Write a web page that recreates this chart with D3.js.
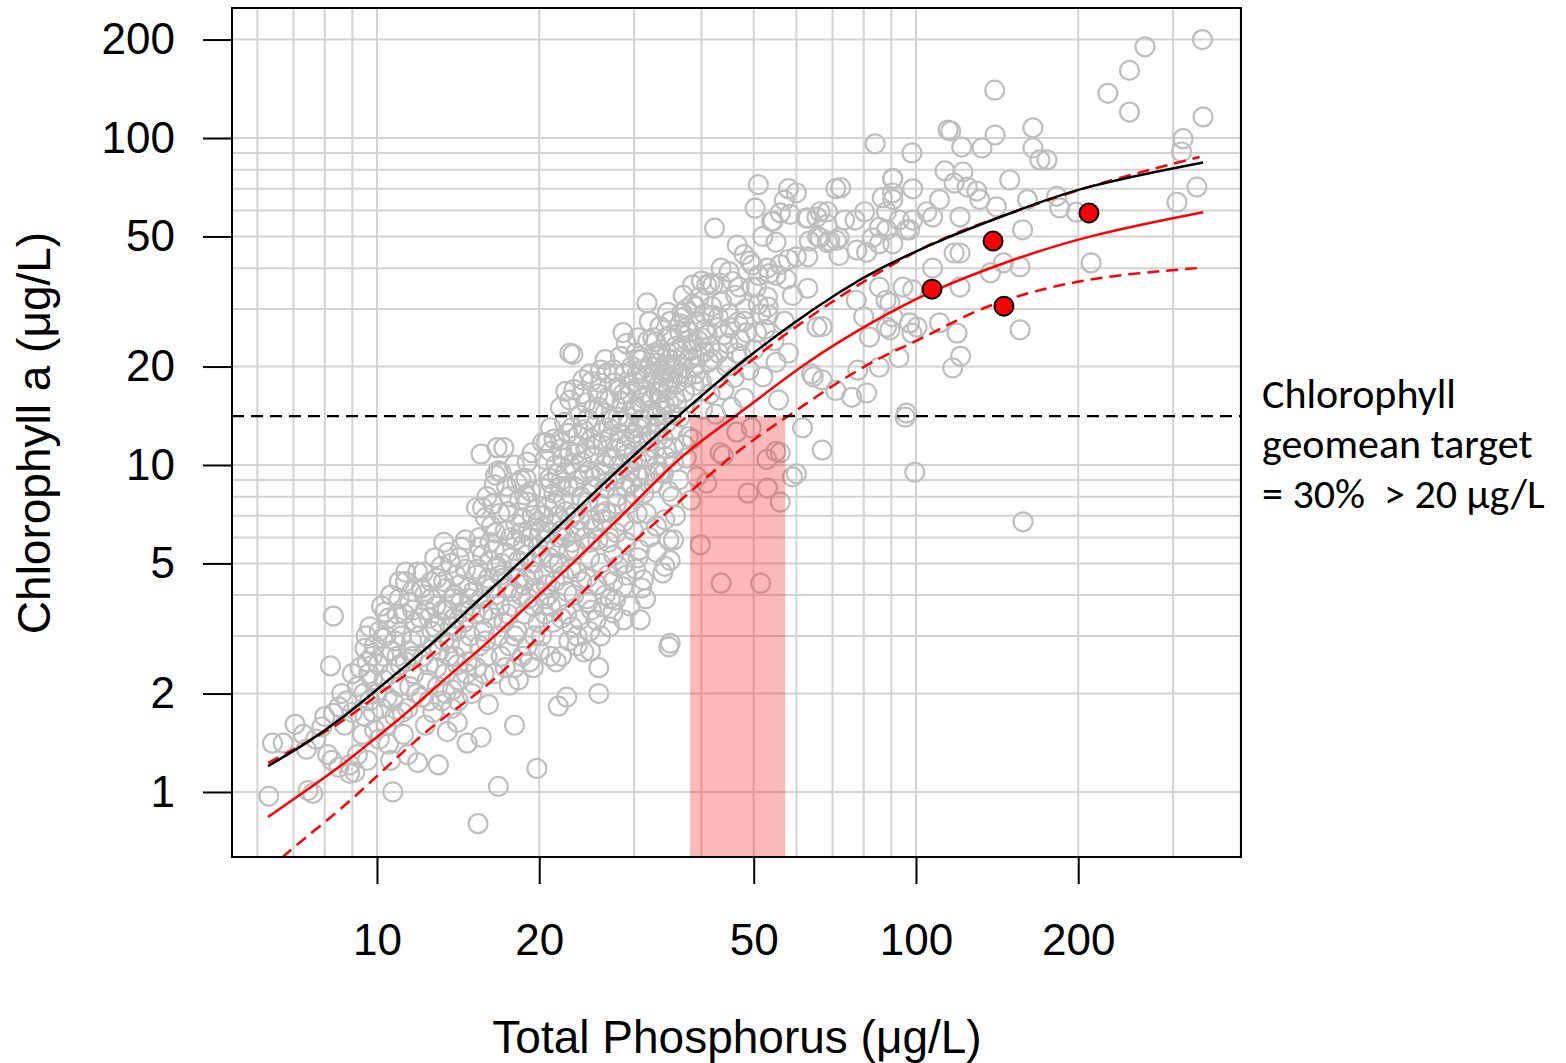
<!DOCTYPE html>
<html><head><meta charset="utf-8">
<script src="https://cdn.jsdelivr.net/npm/d3@7"></script>
<style>body{margin:0;background:#fff} svg{display:block}</style>
</head><body>
<svg id="chart" width="1566" height="1063"></svg>
<script>
// ---------- data ----------
const xTicks = [10, 20, 50, 100, 200];
const yTicks = [1, 2, 5, 10, 20, 50, 100, 200];
const xGrid = [6, 7, 8, 9, 10, 20, 30, 40, 50, 60, 70, 80, 90, 100, 200, 300, 400];
const yGrid = [1, 2, 3, 4, 5, 6, 7, 8, 9, 10, 20, 30, 40, 50, 60, 70, 80, 90, 100, 200];
const xDomain = [5.383, 400.9];
const yDomain = [0.6326, 249.8];

// lakes: [total phosphorus, chlorophyll a]
const lakePoints = [
 [6.3,0.97],[6.4,1.41],[6.7,1.41],[7.05,1.61],[7.45,1.01],[7.6,0.99],[7.9,1.58],[8.3,1.74],[8.5,1.82],[8.9,1.14],
 [8.5,1.19],[9.6,1.25],[8.3,3.45],[8.2,2.43],[7.3,1.5],[7.7,1.45],[8.0,1.7],[8.7,1.6],[8.8,1.9],[9.0,1.75],
 [8.6,2.0],[9.2,2.1],[8.1,1.3],[7.4,1.35],[8.25,1.25],[8.9,1.21],[9.1,1.15],
 [9.2,1.3],[9.4,1.5],[9.5,1.7],[9.7,1.9],[9.8,2.2],[9.6,2.5],[9.9,2.8],[10.1,3.1],[10.3,2.6],[10.0,2.0],
 [10.2,1.8],[10.4,1.6],[10.5,1.4],[10.6,2.3],[10.8,2.9],[10.9,3.5],[10.7,1.9],[11.0,2.1],[10.1,1.45],[9.7,3.2],
 [10.5,3.4],[10.9,2.6],[10.3,2.2],[9.9,1.55],[10.6,1.25],[10.8,1.7],[9.3,2.4],[9.5,2.75],[9.0,2.3],[10.2,3.7],
 [10.7,1.0],[10.6,4.0],[11.0,4.4],[10.4,3.0],[9.8,2.6],
 [11.2,1.5],[11.4,1.8],[11.5,2.1],[11.3,2.5],[11.6,2.9],[11.8,3.3],[11.5,3.8],[11.3,4.4],[11.9,4.7],[12.1,4.2],
 [12.3,3.6],[12.0,3.0],[12.2,2.6],[12.4,2.2],[12.5,1.9],[12.3,1.6],[11.9,1.23],[12.7,2.8],[12.8,3.2],[12.6,3.9],
 [12.9,4.5],[13.0,1.21],[12.7,1.75],[12.9,2.4],[11.7,2.3],[11.1,3.0],[11.0,3.9],[11.6,4.1],[12.1,1.95],[12.5,3.4],
 [11.4,1.3],[12.8,5.2],[11.3,4.7],[12.2,4.7],[11.66,2.6],
 [13.2,1.9],[13.5,1.53],[14.1,1.63],[13.8,2.05],[13.4,2.3],[13.6,2.6],[13.3,2.9],[13.7,3.2],[13.5,3.6],[13.9,4.0],
 [13.3,4.4],[13.3,5.8],[14.6,5.9],[14.2,5.2],[14.0,4.6],[14.3,3.8],[14.5,3.3],[14.4,2.8],[14.7,2.5],[14.2,2.2],
 [14.7,1.41],[15.0,2.0],[14.9,3.0],[14.8,4.2],[14.6,4.8],[13.9,3.4],[13.1,3.3],[14.1,2.45],[13.7,5.0],[14.9,3.6],
 [15.1,2.15],[15.6,1.47],[15.4,0.8],[16.1,1.85],[15.3,2.4],[15.5,2.8],[15.8,3.1],[15.2,3.5],[15.6,3.9],[15.9,4.3],
 [15.4,4.8],[15.7,5.3],[16.2,5.8],[15.3,7.4],[15.7,7.4],[15.6,10.8],[16.7,11.3],[16.8,9.6],[16.5,8.7],[16.3,6.5],
 [16.0,2.6],[16.4,3.4],[16.6,4.0],[16.9,4.6],[16.2,5.1],[16.8,3.0],[16.5,2.3],[16.8,1.04],[15.9,6.9],[16.6,6.2],
 [16.9,7.1],[15.5,6.0],[16.1,4.5],
 [17.2,11.3],[18.5,9.0],[17.4,8.6],[18.2,8.8],[18.9,9.1],[19.4,10.9],[17.3,2.4],[17.6,2.8],[17.2,3.3],[17.8,3.7],
 [17.5,4.2],[17.9,4.8],[17.3,5.4],[17.7,6.0],[18.1,6.6],[17.5,7.2],[18.4,7.8],[18.0,1.6],[18.3,2.2],[18.6,2.6],
 [18.2,3.1],[18.8,3.5],[18.5,4.0],[18.9,4.5],[18.3,5.1],[18.7,5.7],[19.1,6.3],[19.4,7.0],[19.0,7.7],[19.3,8.3],
 [19.6,3.0],[19.2,2.5],[19.7,4.2],[19.5,5.0],[19.9,5.6],[19.8,1.18],[19.9,6.7],[17.0,5.0],[18.6,6.9],[19.5,3.7],
 [17.6,2.12],[18.0,2.4],
 [20.3,11.7],[21.9,11.9],[20.6,11.7],[21.9,15.0],[22.8,15.8],[22.8,22.0],[20.2,3.0],[20.5,3.5],[20.8,4.0],[20.4,4.6],
 [20.9,5.2],[20.6,5.9],[21.1,6.6],[20.7,7.4],[21.3,8.2],[20.9,9.1],[21.5,10.0],[21.2,3.3],[21.6,3.8],[21.4,4.4],
 [21.8,5.0],[21.5,5.6],[22.0,6.3],[21.7,7.0],[22.2,7.8],[21.9,8.6],[22.4,9.5],[22.1,10.5],[22.6,12.5],[22.3,13.5],
 [22.7,2.9],[22.5,4.1],[22.9,4.8],[22.7,5.5],[22.4,6.0],[22.9,6.9],[21.7,1.83],[22.5,1.95],[22.8,11.0],[20.3,8.5],
 [21.0,2.6],[20.1,6.3],[21.0,13.0],
 [24.8,19.0],[26.7,19.1],[24.1,18.2],[23.8,3.36],[24.2,2.68],[25.8,2.4],[25.8,2.0],[24.9,2.7],[23.2,4.0],[23.5,4.7],
 [23.4,5.5],[23.7,6.3],[23.3,7.1],[23.9,8.0],[23.6,9.0],[24.0,10.2],[23.5,11.5],[24.2,12.8],[23.8,14.2],[24.4,15.5],
 [24.6,3.8],[24.5,4.5],[24.8,5.2],[24.3,6.0],[24.9,6.8],[24.6,7.7],[25.1,8.6],[24.8,9.6],[25.3,10.7],[25.0,12.0],
 [25.5,13.3],[25.2,14.8],[25.7,16.5],[25.5,3.35],[25.6,4.3],[26.0,5.0],[25.7,5.9],[26.2,6.8],[25.9,7.6],[26.5,8.5],
 [26.1,9.5],[26.7,10.6],[26.3,11.8],[26.9,13.0],[26.5,14.4],[26.8,4.6],[26.3,3.68],[26.9,5.8],[26.6,7.2],[23.1,21.8],
 [27.1,3.9],[27.4,4.4],[27.7,3.86],[28.7,3.36],[30.8,3.36],[27.4,3.53],[28.6,4.24],[31.0,4.2],[27.5,5.3],[27.8,6.2],
 [27.3,7.1],[27.9,8.0],[27.6,9.0],[28.1,10.0],[27.8,11.2],[28.3,12.5],[28.0,14.0],[28.5,15.5],[28.2,17.0],[28.6,25.4],
 [28.8,5.0],[29.0,5.8],[28.7,6.7],[29.2,7.6],[28.9,8.6],[29.4,9.6],[29.1,10.8],[29.6,12.0],[29.3,13.4],[29.8,14.8],
 [29.5,16.5],[30.0,18.0],[29.7,20.0],[30.2,22.0],[29.9,6.3],[30.4,7.1],[30.1,8.1],[30.6,9.2],[30.3,10.4],[30.8,11.6],
 [30.5,13.0],[30.9,15.5],[30.6,17.2],[30.9,19.5],[30.2,4.8],[30.7,5.5],
 [31.7,31.3],[32.5,24.5],[34.6,24.7],[34.6,29.3],[31.2,4.45],[33.9,4.67],[35.0,5.1],[35.5,5.9],[34.2,6.8],[33.0,6.5],
 [31.6,7.1],[34.8,2.78],[35.0,2.85],[34.2,4.9],[34.8,5.9],[31.3,8.2],[31.8,9.3],[31.5,10.5],[32.0,11.8],[31.7,13.2],
 [32.2,14.7],[31.9,16.3],[32.4,18.0],[32.1,20.0],[32.7,22.0],[32.6,8.8],[33.1,10.0],[32.8,11.2],[33.3,12.6],[33.0,14.1],
 [33.5,15.8],[33.2,17.5],[33.7,19.5],[33.4,21.5],[34.0,9.4],[34.3,10.6],[34.0,12.0],[34.5,13.5],[34.2,15.2],[34.7,17.0],
 [34.4,19.0],[34.9,21.0],[35.3,8.0],[35.5,11.3],[35.2,14.3],[35.7,16.2],[35.4,18.5],[35.8,23.0],[33.5,26.5],[32.0,27.5],
 [27.5,19.5],[28.3,21.5],[29.0,23.5],[30.5,24.5],[31.0,21.0],[32.9,23.8],[33.8,18.8],[35.0,20.2],[36.2,22.5],[37.6,24.0],
 [36.0,17.8],[38.8,20.0],[26.0,17.8],[27.0,15.8],[26.5,21.0],
 [33.5,9.5],[35.5,10.2],[37.2,11.5],[38.5,12.0],[36.3,9.0],[34.8,8.3],[32.0,6.0],[30.5,5.2],[29.0,4.6],[33.0,5.4],
 [31.5,3.9],[29.5,3.7],[35.8,7.0],[27.0,6.0],[28.0,4.9],
 [23.5,3.0],[24.8,3.1],[26.0,3.0],[22.0,3.4],[21.0,3.7],[18.0,3.0],[19.0,2.8],[20.0,2.7],[22.0,2.6],[23.0,3.2],
 [25.0,3.6],[27.0,3.2],[19.5,2.4],[21.5,2.5],[23.5,2.8],[20.5,3.9],[22.5,3.5],[24.5,3.9],[26.5,4.0],
 [9.45,2.0],[9.65,2.3],[9.85,1.75],[10.05,2.45],[10.25,2.95],[10.45,1.95],[10.65,2.7],[10.85,3.2],[11.05,2.45],[11.25,3.5],
 [11.45,2.7],[11.65,3.6],[11.85,2.0],[12.05,3.4],[12.25,4.0],[12.45,2.45],[12.65,3.1],[11.15,1.75],[10.35,3.55],[9.55,3.0],
 [12.85,3.7],[13.05,2.7],[13.25,3.6],[13.45,4.2],[13.65,2.85],[13.85,3.9],[14.05,3.1],[14.25,4.3],[14.45,3.55],[14.65,2.3],
 [14.85,3.9],[13.15,4.9],[13.55,5.4],[14.35,5.6],[13.95,2.6],[12.95,2.1],[14.15,1.9],[13.75,1.8],[12.6,4.4],[13.4,2.0],
 [15.1,4.1],[15.3,4.6],[15.5,5.6],[15.7,3.5],[15.9,2.9],[16.1,3.6],[16.3,4.2],[16.5,5.5],[16.7,4.9],[16.9,3.7],
 [17.1,4.5],[17.3,6.3],[17.5,3.5],[17.7,5.2],[17.9,4.1],[18.1,5.9],[18.3,4.5],[18.5,6.2],[18.7,4.3],[18.9,5.3],
 [19.1,3.9],[19.3,6.0],[19.5,4.6],[19.7,7.3],[19.9,3.3],[16.0,8.0],[17.0,9.5],[18.0,10.0],[19.0,10.2],[16.4,7.6],
 [17.6,8.0],[18.8,8.1],[15.8,2.3],[17.0,2.6],[16.6,9.3],
 [20.2,5.3],[20.4,7.0],[20.6,4.3],[20.8,6.2],[21.0,8.8],[21.2,5.0],[21.4,7.6],[21.6,9.4],[21.8,6.0],[22.0,11.2],
 [22.2,4.6],[22.4,7.2],[22.6,8.6],[22.8,10.0],[23.0,5.8],[23.2,8.6],[23.4,10.8],[23.6,12.3],[23.8,6.8],[24.0,4.4],
 [24.2,9.3],[24.4,11.2],[24.6,13.8],[24.8,5.8],[23.0,13.0],[21.0,11.0],[22.0,9.0],[20.5,10.4],[21.3,12.0],[24.0,16.5],
 [23.2,17.0],[22.4,16.8],
 [25.2,6.4],[25.4,9.2],[25.6,11.5],[25.8,15.0],[26.0,7.1],[26.2,12.6],[26.4,10.0],[26.6,16.0],[26.8,8.9],[27.0,12.0],
 [27.2,13.8],[27.4,10.4],[27.6,17.8],[27.8,7.6],[28.0,9.4],[28.2,11.8],[28.4,13.6],[28.6,16.5],[28.8,19.0],[29.0,11.4],
 [29.2,14.0],[29.4,17.6],[29.6,8.8],[29.8,10.2],[30.0,12.5],[30.2,15.0],[30.4,19.0],[30.6,21.0],[30.8,8.5],[31.0,13.8],
 [31.2,16.0],[31.4,18.5],[31.6,11.0],[31.8,24.0],[25.0,18.0],[26.0,19.5],
 [32.2,12.5],[32.4,16.0],[32.6,19.0],[32.8,9.5],[33.0,20.5],[33.2,13.4],[33.4,16.6],[33.6,22.5],[33.8,14.6],[34.0,17.8],
 [34.2,20.2],[34.4,11.2],[34.6,22.0],[34.8,15.6],[35.0,18.0],[35.2,25.0],[35.4,12.8],[35.6,19.8],[35.8,21.0],[36.0,15.5],
 [36.5,19.0],[37.0,21.5],[37.5,18.5],[38.0,25.5],[38.5,23.5],[39.0,19.0],[39.5,21.5],[40.0,24.5],[40.5,29.0],[41.0,25.0],
 [41.5,23.0],[42.0,21.0],[36.5,27.0],[37.5,30.0],[39.0,30.5],[35.0,27.5],
 [36.8,29.2],[36.5,25.4],[40.9,35.5],[42.0,35.5],[41.5,36.0],[43.3,36.0],[37.0,28.3],[37.5,26.3],[38.4,22.5],[39.5,24.0],
 [40.5,22.2],[41.3,20.7],[38.8,17.5],[40.0,18.0],[37.2,16.7],[36.5,14.0],[37.8,12.2],[36.9,19.8],[38.0,21.0],[39.2,9.2],
 [40.9,8.8],[39.8,5.7],[37.5,10.5],[38.2,7.8],[39.0,27.5],[40.6,26.0],[38.5,31.0],[41.8,30.5],[40.2,14.8],[41.5,16.5],
 [37.0,33.0],[39.6,32.5],[38.5,35.5],[40.0,36.5],
 [42.3,53.0],[46.6,47.0],[42.0,28.7],[43.0,28.3],[42.8,26.3],[45.2,26.3],[46.7,27.3],[48.5,25.4],[49.7,40.9],[49.7,35.0],
 [45.7,36.4],[43.5,4.35],[48.8,8.2],[46.5,12.6],[43.3,10.9],[43.9,10.7],[43.0,22.0],[44.5,20.0],[46.0,18.5],[47.5,21.5],
 [44.0,17.0],[45.5,15.0],[42.5,14.3],[48.0,16.0],[49.0,19.5],[44.8,23.5],[47.2,24.0],[43.6,31.5],[46.3,33.0],[48.3,30.0],
 [42.7,18.5],[49.5,13.0],[44.0,25.0],[45.0,29.0],[46.5,22.0],[48.0,27.5],[50.0,22.5],[51.0,31.0],[52.5,26.0],[47.0,35.0],
 [45.0,39.0],[43.5,40.0],[51.0,38.0],[48.0,44.0],
 [51.0,72.0],[50.3,61.0],[50.6,35.0],[53.0,32.6],[53.2,30.4],[51.5,29.0],[53.2,28.8],[50.6,25.4],[52.0,18.6],[55.6,15.8],
 [55.0,20.6],[58.0,22.0],[51.5,4.35],[53.0,8.5],[56.0,7.7],[52.9,10.4],[55.0,11.0],[56.0,10.9],[59.0,9.2],[56.0,41.0],
 [58.0,42.5],[60.0,43.3],[58.0,70.0],[60.0,68.0],[57.0,64.5],[56.0,59.0],[54.0,55.5],[52.0,50.0],[55.0,48.0],[57.5,37.0],
 [59.0,33.0],[54.5,24.0],[57.0,27.5],[53.5,38.5],[54.3,55.7],[58.4,58.4],[49.2,42.0],[53.0,40.0],[55.0,38.0],[60.0,9.4],
 [61.6,13.0],[67.0,11.1],
 [63.0,56.9],[65.5,57.3],[68.5,59.5],[65.7,49.9],[68.5,47.9],[71.2,48.6],[73.7,56.1],[77.1,56.1],[80.3,59.5],[77.7,45.4],
 [81.0,44.7],[72.0,43.7],[86.6,65.7],[90.6,64.8],[90.6,75.3],[98.6,69.9],[98.6,56.1],[97.3,52.4],[85.5,53.3],[85.5,47.5],
 [90.6,47.5],[83.0,49.5],[71.0,70.0],[72.5,70.5],[63.0,43.3],[65.5,26.4],[80.0,28.4],[77.5,31.9],[85.5,35.0],[88.0,31.9],
 [90.6,28.4],[89.5,25.9],[82.0,24.6],[85.5,19.9],[78.0,19.5],[81.0,16.6],[93.0,21.3],[97.3,27.2],[100.5,26.4],[71.0,16.9],
 [76.0,16.1],[67.0,18.2],[64.5,18.6],[96.0,14.4],[64.0,19.0],[67.0,26.5],[63.0,34.7],[84.0,96.0],[62.6,56.9],[66.4,59.5],
 [68.4,54.4],[63.4,48.4],[66.4,49.5],[69.2,48.4],[72.0,49.5],[93.1,56.1],[88.2,59.5],[88.2,52.4],[96.0,52.4],[90.5,67.9],
 [140.0,140.0],[266.0,190.0],[249.0,161.0],[227.0,137.0],[249.0,120.0],[340.0,200.0],[341.0,116.0],[114.7,105.8],[121.6,93.8],[132.6,93.2],
 [140.2,102.1],[164.8,107.4],[164.8,93.2],[169.8,85.7],[175.0,85.7],[98.3,90.0],[90.5,74.9],[113.2,79.3],[122.2,78.7],[149.3,74.4],
 [110.6,64.8],[117.7,72.8],[124.5,70.8],[129.7,68.8],[131.4,64.8],[141.0,61.6],[161.0,64.8],[157.7,52.4],[182.4,66.3],[184.8,61.1],
 [198.5,59.3],[305.0,63.6],[332.0,70.8],[313.0,99.5],[311.0,90.6],[104.8,59.5],[107.4,57.3],[120.7,57.3],[117.7,44.5],[120.7,44.5],
 [137.5,38.7],[145.3,41.5],[156.0,40.4],[211.3,41.5],[120.7,35.0],[107.4,40.0],[156.0,25.9],[119.2,25.3],[110.6,27.2],[98.3,25.3],
 [88.2,26.4],[89.5,31.3],[94.6,35.0],[98.6,34.3],[121.0,21.5],[117.0,19.8],[95.5,14.0],[99.5,9.5],[158.0,6.7],[116.0,105.0]
];

const highlightTP  = [107.1, 139.0, 209.4, 145.6];
const highlightChl = [34.5, 48.4, 59.0, 30.6];

// fitted curves [TP, Chl]
const fitCurve = [[6.28,1.20],[7.41,1.41],[8.54,1.66],[9.83,2.01],[11.37,2.45],[13.09,2.98],[15.07,3.73],[16.69,4.33],
 [20.68,6.02],[25.9,8.55],[32.1,11.9],[36.0,14.0],[43.3,18.2],[47.2,20.5],[58.4,26.8],[72.3,34.0],[85.6,40.0],
 [114.3,49.9],[151.5,59.3],[201.5,71.0],[341,84.2]];
const medianCurve = [[6.28,0.839],[7.41,1.014],[8.54,1.192],[9.83,1.442],[11.37,1.744],[13.09,2.154],[15.07,2.62],
 [16.9,3.09],[25.9,5.98],[32.1,8.56],[37.6,11.1],[47.2,14.4],[62.8,20.8],[83.2,27.5],[106.2,34.0],[147.5,42.0],
 [210,50.6],[341,59.3]];
const upperCurve = [[6.28,1.227],[7.74,1.473],[8.91,1.695],[10.26,2.05],[11.86,2.39],[13.66,2.96],[16.42,3.86],
 [21.68,5.98],[25.9,8.2],[30.76,10.7],[37.6,14.0],[47.2,19.8],[63.6,28.6],[83.9,38.4],[110.8,49.5],[147,58.2],
 [210,71.8],[336,87.5]];
const lowerCurve = [[6.28,0.577],[6.75,0.642],[7.35,0.723],[8.54,0.881],[9.83,1.088],[11.37,1.363],[13.09,1.661],
 [15.07,1.952],[16.69,2.247],[18.19,2.57],[21.86,3.453],[28.24,5.38],[34.5,7.13],[45.8,10.88],[57.65,14.02],
 [69.25,17.32],[85.6,21.4],[101.7,24.1],[131.5,30.4],[175,35.0],[232,38.1],[332,40.0]];

const targetChl = 14.1;
const shadeTP = [38.1, 57.2];
const annotation = ["Chlorophyll", "geomean target", "= 30%  > 20 \u03bcg/L"];

// ---------- drawing ----------
const svg = d3.select("#chart");
const L = 232, R = 1241, T = 8, B = 857;
const x = d3.scaleLog().domain(xDomain).range([L, R]);
const y = d3.scaleLog().domain(yDomain).range([B, T]);
const FONT = "'Liberation Sans', Arial, Helvetica, sans-serif";

svg.append("defs").append("clipPath").attr("id", "plotclip")
  .append("rect").attr("x", L).attr("y", T).attr("width", R - L).attr("height", B - T);

const grid = svg.append("g").attr("clip-path", "url(#plotclip)");
grid.selectAll(".gx").data(xGrid).join("line")
  .attr("x1", d => x(d)).attr("x2", d => x(d)).attr("y1", T).attr("y2", B)
  .attr("stroke", "#d3d3d3").attr("stroke-width", 2);
grid.selectAll(".gy").data(yGrid).join("line")
  .attr("y1", d => y(d)).attr("y2", d => y(d)).attr("x1", L).attr("x2", R)
  .attr("stroke", "#d3d3d3").attr("stroke-width", 2);

const plot = svg.append("g").attr("clip-path", "url(#plotclip)");
plot.selectAll(".pt").data(lakePoints).join("circle")
  .attr("cx", d => x(d[0])).attr("cy", d => y(d[1])).attr("r", 9.5)
  .attr("fill", "none").attr("stroke", "#bebebe").attr("stroke-width", 2.2);

// shaded band
plot.append("rect")
  .attr("x", x(shadeTP[0])).attr("width", x(shadeTP[1]) - x(shadeTP[0]))
  .attr("y", y(targetChl)).attr("height", B - y(targetChl))
  .attr("fill", "#f22a2a").attr("fill-opacity", 0.33);

const line = d3.line().x(d => x(d[0])).y(d => y(d[1])).curve(d3.curveBasis);
plot.append("path").datum(lowerCurve).attr("d", line).attr("fill", "none")
  .attr("stroke", "#ff0000").attr("stroke-width", 2.5).attr("stroke-dasharray", "12,7");
plot.append("path").datum(upperCurve).attr("d", line).attr("fill", "none")
  .attr("stroke", "#ff0000").attr("stroke-width", 2.5).attr("stroke-dasharray", "12,7");
plot.append("path").datum(medianCurve).attr("d", line).attr("fill", "none")
  .attr("stroke", "#ff0000").attr("stroke-width", 2.5);
plot.append("path").datum(fitCurve).attr("d", line).attr("fill", "none")
  .attr("stroke", "#000").attr("stroke-width", 2.5);

// target line
plot.append("line").attr("x1", L).attr("x2", R).attr("y1", y(targetChl)).attr("y2", y(targetChl))
  .attr("stroke", "#000").attr("stroke-width", 2.2).attr("stroke-dasharray", "12,7");

// highlighted lakes
plot.selectAll(".hl").data(highlightTP).join("circle")
  .attr("cx", d => x(d)).attr("cy", (d, i) => y(highlightChl[i])).attr("r", 9.5)
  .attr("fill", "#ff0000").attr("stroke", "#000").attr("stroke-width", 2);

// box
svg.append("rect").attr("x", L).attr("y", T).attr("width", R - L).attr("height", B - T)
  .attr("fill", "none").attr("stroke", "#000").attr("stroke-width", 2);

// axes
const xAxis = d3.axisBottom(x).tickValues(xTicks).tickFormat(d3.format("d")).tickSize(27).tickPadding(40);
const gx = svg.append("g").attr("transform", `translate(0,${B})`).call(xAxis);
const yAxis = d3.axisLeft(y).tickValues(yTicks).tickFormat(d3.format("d")).tickSize(29).tickPadding(28);
const gy = svg.append("g").attr("transform", `translate(${L},0)`).call(yAxis);
[gx, gy].forEach(g => {
  g.select(".domain").remove();
  g.selectAll(".tick line").attr("stroke", "#000").attr("stroke-width", 2);
  g.selectAll(".tick text").attr("fill", "#000").style("font-family", FONT).style("font-size", "44px");
});

svg.append("text").attr("x", 737).attr("y", 1053).attr("text-anchor", "middle")
  .style("font-family", FONT).style("font-size", "46px").text("Total Phosphorus (\u03bcg/L)");
svg.append("text").attr("transform", "translate(50,433) rotate(-90)").attr("text-anchor", "middle")
  .style("font-family", FONT).style("font-size", "46px").text("Chlorophyll a (\u03bcg/L)");

svg.append("g").selectAll("text").data(annotation).join("text")
  .attr("x", 1262).attr("y", (d, i) => 408 + i * 50)
  .style("font-family", "Carlito, Lato, 'Open Sans', sans-serif").style("font-size", "42px")
  .style("white-space", "pre")
  .text(d => d);
</script>
</body></html>
